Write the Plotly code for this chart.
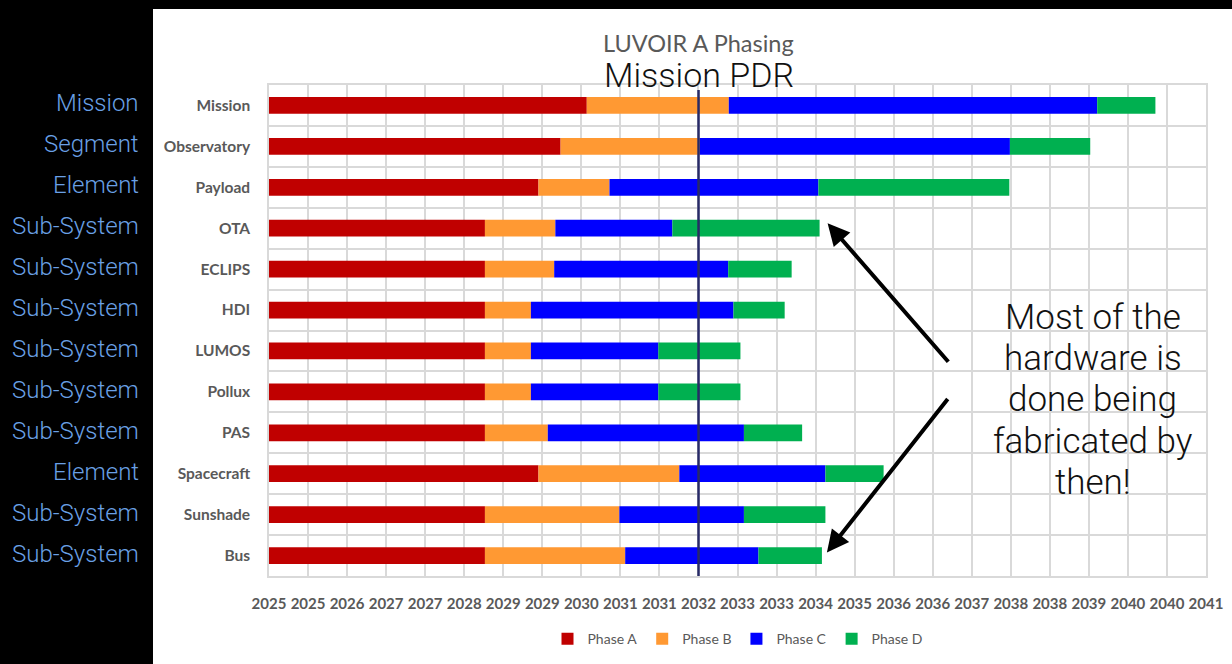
import plotly.graph_objects as go

# ---------------- data ----------------
categories = ["Mission", "Observatory", "Payload", "OTA", "ECLIPS", "HDI",
              "LUMOS", "Pollux", "PAS", "Spacecraft", "Sunshade", "Bus"]
levels = ["Mission", "Segment", "Element", "Sub-System", "Sub-System", "Sub-System",
          "Sub-System", "Sub-System", "Sub-System", "Element", "Sub-System", "Sub-System"]
phase_names = ["Phase A", "Phase B", "Phase C", "Phase D"]
# durations in years
phase_a = [5.46, 5.01, 4.63, 3.71, 3.71, 3.71, 3.71, 3.71, 3.71, 4.63, 3.71, 3.71]
phase_b = [2.44, 2.39, 1.22, 1.21, 1.19, 0.79, 0.79, 0.79, 1.08, 2.42, 2.31, 2.41]
phase_c = [6.33, 5.33, 3.59, 2.01, 2.99, 3.48, 2.19, 2.19, 3.37, 2.51, 2.14, 2.29]
phase_d = [1.00, 1.38, 3.28, 2.53, 1.09, 0.88, 1.41, 1.41, 1.00, 1.00, 1.40, 1.09]
tick_labels = ["2025", "2025", "2026", "2027", "2027", "2028", "2029", "2029", "2030",
               "2031", "2031", "2032", "2033", "2033", "2034", "2035", "2036", "2036",
               "2037", "2038", "2038", "2039", "2040", "2040", "2041"]
axis_start = 2025.27
tick_step = 0.6708
pdr_year = 2032.65
title_text = "LUVOIR A Phasing"
pdr_text = "Mission PDR"
note_lines = ["Most of the", "hardware is", "done being", "fabricated by", "then!"]
arrow_targets = ["OTA", "Bus"]

phase_colors = ["#C00000", "#FF9933", "#0000FF", "#00B050"]

# ---------------- figure ----------------
fig = go.Figure()
durations = [phase_a, phase_b, phase_c, phase_d]
bases = [axis_start] * len(categories)
for name, dur, col in zip(phase_names, durations, phase_colors):
    fig.add_trace(go.Bar(
        y=categories, x=dur, base=list(bases), orientation="h", name=name,
        marker=dict(color=col, line=dict(width=0)),
    ))
    bases = [b + d for b, d in zip(bases, dur)]
ends = dict(zip(categories, bases))

x_end = axis_start + (len(tick_labels) - 1) * tick_step
tickvals = [axis_start + i * tick_step for i in range(len(tick_labels))]

grid = "#D9D9D9"
fig.update_layout(
    width=1232, height=664,
    margin=dict(l=269, r=26, t=85, b=88, autoexpand=False),
    paper_bgcolor="white", plot_bgcolor="white",
    barmode="overlay", bargap=0.59,
    showlegend=True,
    legend=dict(orientation="h", x=0.5, xanchor="center", y=-0.096, yanchor="top",
                font=dict(family="Lato", size=14, color="#595959"),
                itemwidth=30, tracegroupgap=0),
    xaxis=dict(range=[axis_start, x_end], autorange=False, tickvals=tickvals, ticktext=tick_labels,
               showgrid=True, gridcolor=grid, gridwidth=1.5,
               showline=True, linecolor=grid, linewidth=1.5, mirror=True,
               zeroline=False, ticks="", ticklabelstandoff=13, automargin=False,
               tickfont=dict(family="Lato", size=15, color="#595959", weight="bold")),
    yaxis=dict(categoryorder="array", categoryarray=categories,
               range=[len(categories) - 0.5, -0.5], autorange=False,
               tickson="boundaries", showgrid=True, gridcolor=grid, gridwidth=1.5,
               showline=True, linecolor=grid, linewidth=1.5, mirror=True,
               ticks="", ticklabelstandoff=14, automargin=False,
               tickfont=dict(family="Lato", size=15.5, color="#595959", weight="bold")),
)

# black frame outside the white slide panel
fig.add_shape(type="rect", xref="paper", yref="paper", x0=-0.32, x1=-0.1238,
              y0=-0.25, y1=1.25, fillcolor="black", line=dict(width=0), layer="below")
fig.add_shape(type="rect", xref="paper", yref="paper", x0=-0.32, x1=1.1,
              y0=1.1548, y1=1.25, fillcolor="black", line=dict(width=0), layer="below")

# Mission PDR line
fig.add_shape(type="line", xref="x", yref="paper", x0=pdr_year, x1=pdr_year,
              y0=0, y1=0.99, line=dict(color="#272A67", width=2.5))

# titles
fig.add_annotation(text=title_text, xref="x", yref="paper", x=pdr_year, y=1.0855,
                   showarrow=False, xanchor="center", yanchor="middle",
                   font=dict(family="Lato", size=23.5, color="#595959"))
fig.add_annotation(text=pdr_text, xref="x", yref="paper", x=pdr_year, y=1.0204,
                   showarrow=False, xanchor="center", yanchor="middle",
                   font=dict(family="Roboto", size=34, color="#111111", weight=300))

# left-hand level labels
for cat, lev in zip(categories, levels):
    fig.add_annotation(text=lev, xref="paper", yref="y", x=(141 - 269) / 937, y=cat,
                       showarrow=False, xanchor="right", yanchor="middle", yshift=2,
                       font=dict(family="Roboto", size=24, color="#6AA0E6", weight=300))

# note text (one annotation per line to match the tight line spacing)
mid = (len(note_lines) - 1) / 2
for i, line in enumerate(note_lines):
    fig.add_annotation(text=line, xref="paper", yref="paper", x=0.8794, y=0.3585,
                       yshift=(mid - i) * 41.2, showarrow=False,
                       xanchor="center", yanchor="middle", align="center",
                       font=dict(family="Roboto", size=35, color="#111111", weight=300))

# arrows
arrow_px = 1 / 58.19
fig.add_annotation(x=ends[arrow_targets[0]] + 8 * arrow_px, y=arrow_targets[0], xref="x", yref="y",
                   ax=122, ay=140, showarrow=True, arrowhead=2, arrowsize=1.1,
                   arrowwidth=4, arrowcolor="black", text="", yshift=5)
fig.add_annotation(x=ends[arrow_targets[1]] + 5 * arrow_px, y=arrow_targets[1], xref="x", yref="y",
                   ax=122, ay=-155, showarrow=True, arrowhead=2, arrowsize=1.1,
                   arrowwidth=4, arrowcolor="black", text="", yshift=3)

fig.write_html(
    "out.html",
    config={"displayModeBar": False},
    post_script="document.body.style.margin='0';document.body.style.background='black';",
)
